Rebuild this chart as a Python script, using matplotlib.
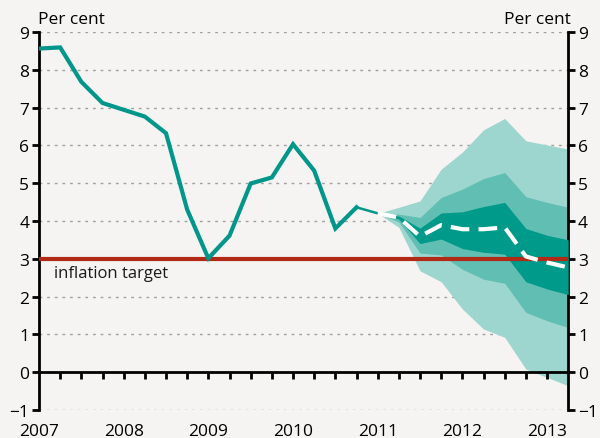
import numpy as np
import matplotlib
matplotlib.use("Agg")
import matplotlib.pyplot as plt
from matplotlib.transforms import blended_transform_factory

#historical inflation, quarterly from 2007 Q1
hist_dates = [2007.0, 2007.25, 2007.5, 2007.75, 2008.0, 2008.25, 2008.5, 2008.75,
              2009.0, 2009.25, 2009.5, 2009.75, 2010.0, 2010.25, 2010.5, 2010.75]
hist_values = [8.56, 8.59, 7.68, 7.12, 6.94, 6.76, 6.32, 4.3,
               3.01, 3.61, 4.99, 5.15, 6.03, 5.33, 3.8, 4.36]
#short thin link to the start of the projection
link_dates = [2010.75, 2011.0]
link_values = [4.36, 4.2]

#fan chart projection
fan_dates = [2011.0, 2011.25, 2011.5, 2011.75, 2012.0, 2012.25, 2012.5, 2012.75, 2013.0, 2013.25]
light_upper = [4.2, 4.36, 4.53, 5.37, 5.82, 6.41, 6.71, 6.12, 6.01, 5.9]
mid_upper = [4.2, 4.18, 4.09, 4.62, 4.84, 5.12, 5.28, 4.64, 4.49, 4.36]
dark_upper = [4.2, 4.13, 3.81, 4.21, 4.24, 4.38, 4.49, 3.80, 3.62, 3.5]
median = [4.2, 4.09, 3.59, 3.89, 3.78, 3.78, 3.83, 3.06, 2.9, 2.77]
dark_lower = [4.2, 4.05, 3.4, 3.52, 3.27, 3.17, 3.12, 2.39, 2.2, 2.05]
mid_lower = [4.2, 3.97, 3.15, 3.1, 2.72, 2.46, 2.35, 1.58, 1.36, 1.18]
light_lower = [4.2, 3.83, 2.68, 2.39, 1.67, 1.14, 0.92, 0.08, -0.14, -0.36]

target = 3
years = [2007, 2008, 2009, 2010, 2011, 2012, 2013]
yticks = list(range(-1, 10))

bg = "#f5f4f2"
teal = "#00968a"
plt.rcParams['font.family'] = ['Open Sans', 'DejaVu Sans']

fig = plt.figure(figsize=(6, 4.39), dpi=100, facecolor=bg)
ax = fig.add_axes([0.065, 0.064, 0.882, 0.861], facecolor=bg)

#gridlines
for v in yticks:
    if v != 0:
        ax.axhline(v, color="#a0a0a0", lw=1, ls=(0, (2, 3.5)), zorder=0)

#fan bands
ax.fill_between(fan_dates, light_lower, light_upper, color="#9dd6cf", lw=0, zorder=1)
ax.fill_between(fan_dates, mid_lower, mid_upper, color="#60beb3", lw=0, zorder=2)
ax.fill_between(fan_dates, dark_lower, dark_upper, color="#009a8a", lw=0, zorder=3)

ax.axhline(target, color="#b02a15", lw=3, zorder=4)
ax.plot(fan_dates, median, color="white", lw=3, dashes=(4.5, 2.2), zorder=6)

ax.plot(hist_dates, hist_values, color=teal, lw=3, solid_joinstyle="miter", zorder=5)
ax.plot(link_dates, link_values, color=teal, lw=1.8, zorder=5)

ax.text(2007.18, 2.62, "inflation target", fontsize=12, va="center", ha="left", color="#1a1a1a")

ax.set_xlim(2007.0, 2013.25)
ax.set_ylim(-1, 9)

#zero line with quarterly ticks
ax.spines['top'].set_visible(False)
ax.spines['bottom'].set_position(('data', 0))
ax.spines['bottom'].set_linewidth(2)
ax.spines['left'].set_linewidth(2)
ax.spines['right'].set_linewidth(2)
ax.set_xticks(np.arange(2007.25, 2013.01, 0.25))
ax.set_xticklabels([])
ax.tick_params(axis='x', direction='out', length=5, width=2)

ax.set_yticks(yticks)
ax.tick_params(axis='y', which='both', direction='out', length=5, width=2,
               labelsize=12.5, pad=2, left=True, right=True, labelleft=True, labelright=True)

trans = blended_transform_factory(ax.transData, ax.transAxes)
for yr in years:
    ax.text(yr, -0.035, str(yr), transform=trans, ha="center", va="top", fontsize=12.5)

fig.text(0.063, 0.973, "Per cent", ha="left", va="top", fontsize=12.5)
fig.text(0.952, 0.973, "Per cent", ha="right", va="top", fontsize=12.5)

fig.savefig("out.png", dpi=100, facecolor=bg)
